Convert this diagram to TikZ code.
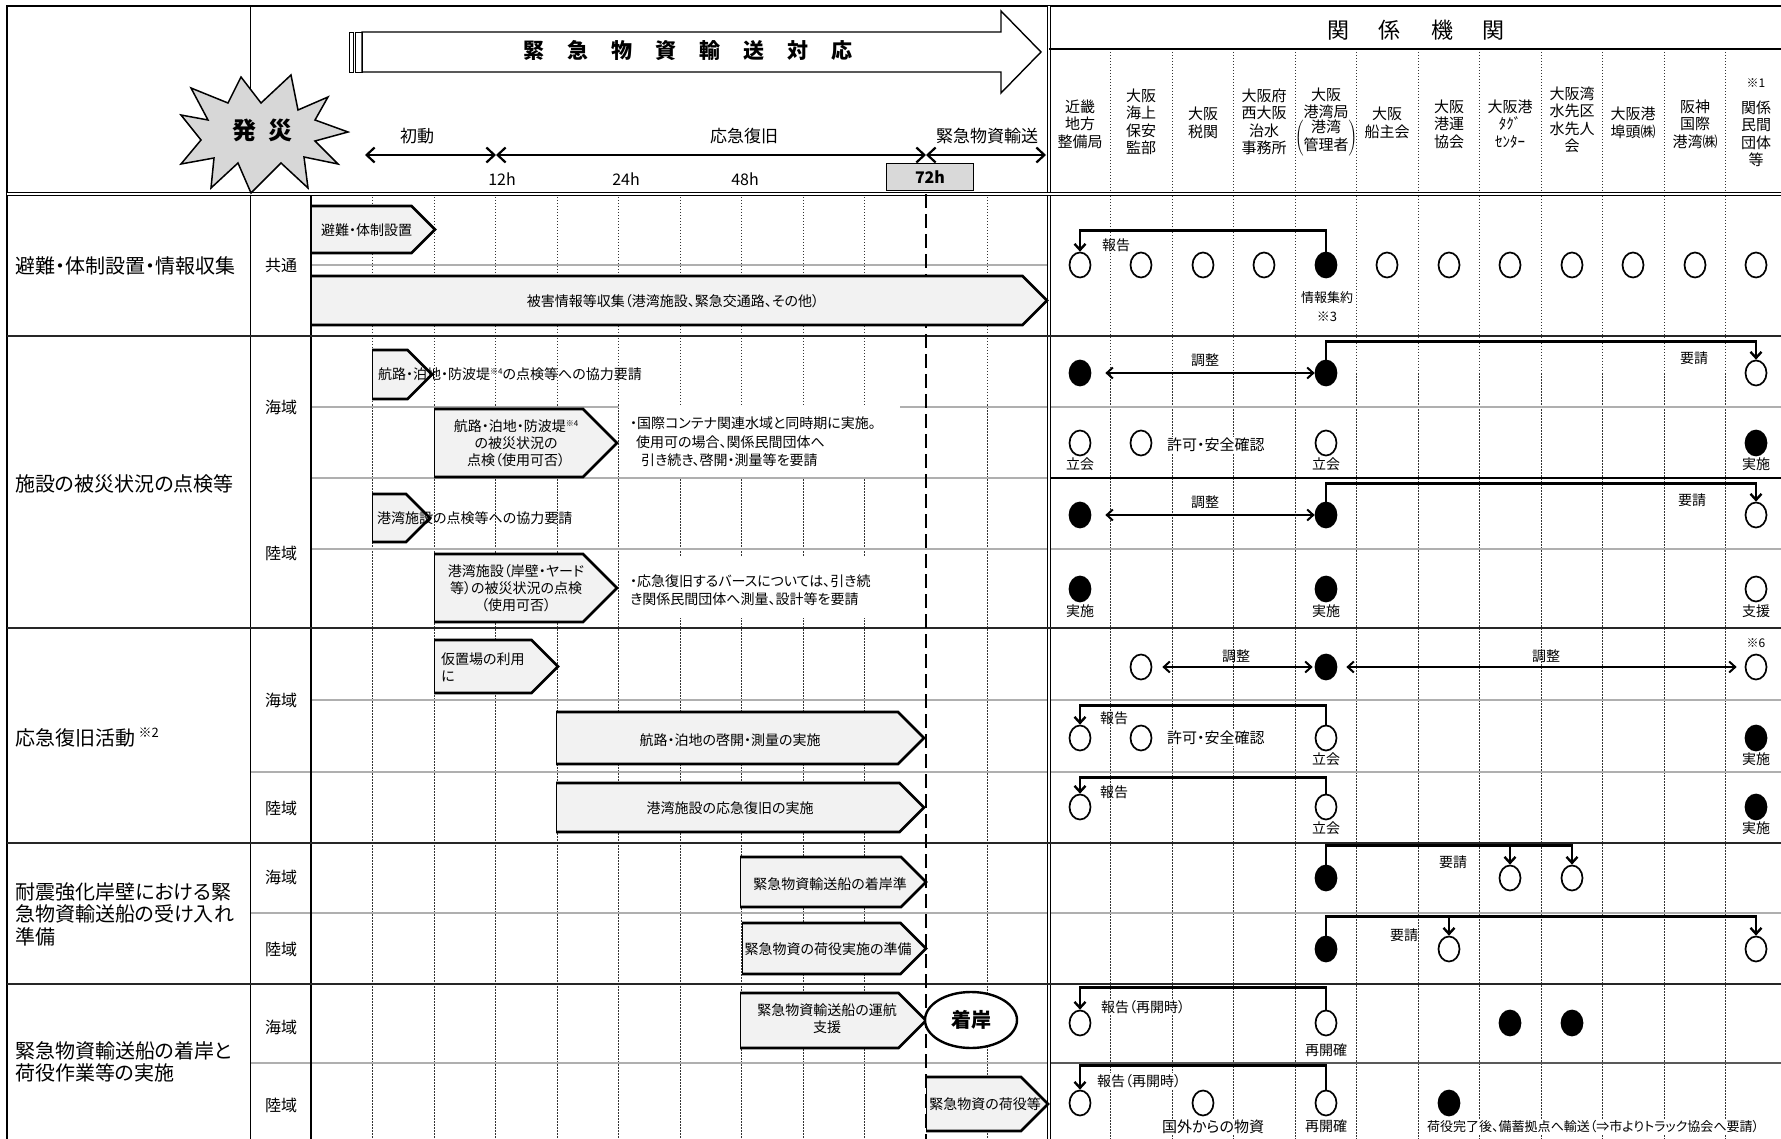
\documentclass[tikz,border=0pt]{standalone}
\usepackage{fontspec}
\setmainfont{Noto Sans CJK JP}[RawFeature=+palt]
\usepackage{tikz}
\usetikzlibrary{positioning, shapes.geometric, arrows.meta, calc}
\definecolor{barFill}{RGB}{242,242,242}
\definecolor{lineGray}{RGB}{175,175,175}
\definecolor{starGray}{RGB}{215,215,215}
\definecolor{boxGray}{RGB}{217,217,217}
\newcommand\fsz[2]{\fontsize{#1}{#2}\selectfont}
% timeline bar: x start, x tip, y top, y bottom
\newcommand\tlbar[4]{%
  \fill[barFill] (#1,#3) -- ({#2-(#4-#3)/2},#3) -- (#2,{(#3+#4)/2}) -- ({#2-(#4-#3)/2},#4) -- (#1,#4) -- cycle;
  \draw[line width=1] (#1,#3) -- (#1,#4);
  \draw[baredge] (#1,#3) -- ({#2-(#4-#3)/2},#3) -- (#2,{(#3+#4)/2}) -- ({#2-(#4-#3)/2},#4) -- (#1,#4);}

\begin{document}
\begin{tikzpicture}[x=1pt, y=-1pt,
  sepline/.style={line width=2.2, black!85},
  gridline/.style={line width=0.9, black!80, dash pattern=on 1.5pt off 1.5pt},
  grayline/.style={line width=1.3, lineGray},
  baredge/.style={line width=2.6, line join=miter},
  bartxt/.style={font=\fsz{14}{17}, align=center, inner sep=0},
  notetxt/.style={font=\fsz{14}{18.5}, align=left, anchor=west, inner sep=0},
  seclbl/.style={font=\fsz{20}{22.5}, align=left, anchor=west, inner sep=0},
  sublbl/.style={font=\fsz{16}{16}, inner sep=0},
  orgname/.style={font=\fsz{15}{17.5}, align=center, inner sep=0},
  hdrtxt/.style={font=\fsz{17}{17}, inner sep=0},
  opn/.style={ellipse, draw, line width=1.7, minimum width=21, minimum height=25, inner sep=0, fill=white},
  fil/.style={opn, fill=black},
  lbl/.style={font=\fsz{14}{16}, inner sep=1},
  brk/.style={line width=2.4, -{Straight Barb[length=6pt, width=11pt]}},
  adj/.style={line width=2, {Straight Barb[length=6pt, width=11pt]}-{Straight Barb[length=6pt, width=11pt]}},
  tarrow/.style={line width=2.2, {Straight Barb[length=8pt, width=15pt]}-{Straight Barb[length=8pt, width=15pt]}}
]
\useasboundingbox (0,0) rectangle (1781,1139);
\clip (0,0) rectangle (1781,1139);

% Grid
\foreach \k in {1,...,9,11} \draw[gridline] ({311+61.5*\k},194) -- ({311+61.5*\k},1139);
\foreach \k in {1,...,11} \draw[gridline] ({1049+61.5*\k},49) -- ({1049+61.5*\k},1139);

% Row lines
\draw[grayline] (311,265) -- (1049,265);
\draw[grayline] (311,407) -- (1781,407);
\draw[grayline] (311,478) -- (1049,478);
\draw[line width=1.6] (1049,478) -- (1781,478);
\draw[grayline] (311,549) -- (1781,549);
\draw[grayline] (311,700) -- (1781,700);
\foreach \yy in {772,913} \draw[grayline] (250,\yy) -- (1781,\yy);
\draw[grayline] (250,1063) -- (1049,1063);
\draw[line width=1.3, black!65] (1049,1063) -- (1781,1063);

% Note backgrounds
\fill[white] (619,405) rectangle (900,477);
\fill[white] (619,557) rectangle (890,618);

% Frame
\draw[line width=2.8] (7,1139) -- (7,6) -- (1781,6);
\draw[line width=1] (250,6) -- (250,1139);
\draw[line width=2] (311,194) -- (311,1139);
\draw[line width=1, double, double distance=1.6] (1049,6) -- (1049,1139);
\draw[line width=1.2] (1049,49) -- (1781,49);
\draw[line width=1, double, double distance=1.8] (7,194) -- (1781,194);
\foreach \yy in {336,628,843,984} \draw[sepline] (7,\yy) -- (1781,\yy);

% 72h line
\draw[line width=2.5, dash pattern=on 14pt off 6pt] (926,194) -- (926,1139);

% Header: big arrow
\draw[fill=white, line width=1.4, line join=miter] (362,32) -- (1001,32) -- (1001,11) -- (1041,52) -- (1001,93) -- (1001,72) -- (362,72) -- cycle;
\draw[line width=0.9] (349,32) rectangle (353,72);
\draw[line width=0.9] (355,32) rectangle (362,72);
\node[font=\fsz{21}{21}\bfseries] (title) at (688,51) {緊\hspace{23pt}急\hspace{23pt}物\hspace{23pt}資\hspace{23pt}輸\hspace{23pt}送\hspace{23pt}対\hspace{23pt}応};

% Header: starburst
\draw[fill=starGray, line width=1.5, line join=miter]
  (291,75) -- (298,110) -- (328,97) -- (315,120) -- (348,132) -- (315,141) -- (338,164)
  -- (304,157) -- (308,188) -- (281,163) -- (251,193) -- (238,163) -- (211,188) -- (214,158)
  -- (181,164) -- (201,140) -- (181,115) -- (208,120) -- (191,88) -- (228,103) -- (241,77)
  -- (261,103) -- cycle;
\node[font=\fsz{24}{24}\bfseries] (hassai) at (262,130) {発\hspace{12pt}災};

% Header: time axis
\coordinate (ta) at (365,155);
\coordinate (tb) at (496,155);
\coordinate (tc) at (926,155);
\coordinate (td) at (1046,155);
\draw[tarrow] (ta) -- (tb);
\draw[tarrow] (tb) -- (tc);
\draw[tarrow] (tc) -- (td);
\node[hdrtxt] (shodo) at (417,136) {初動};
\node[hdrtxt] (oukyu) at (744,136) {応急復旧};
\node[hdrtxt] (kinkyu) at (987,136) {緊急物資輸送};
\node[font=\fsz{16}{16}] (h12) at (502,179) {12h};
\node[font=\fsz{16}{16}] (h24) at (626,179) {24h};
\node[font=\fsz{16}{16}] (h48) at (745,179) {48h};
\node[draw, fill=boxGray, line width=1.3, minimum width=87, minimum height=27, inner sep=0, font=\fsz{16}{16}\bfseries] (h72) at (930,177) {72h};

% Header: organisations
\node[font=\fsz{22}{22}] (kankei) at (1416,30) {関\hspace{30pt}係\hspace{30pt}機\hspace{30pt}関};
\node[orgname] (o1) at (1080,124) {近畿\\地方\\整備局};
\node[orgname] (o2) at (1141,122) {大阪\\海上\\保安\\監部};
\node[orgname] (o3) at (1203,123) {大阪\\税関};
\node[orgname] (o4) at (1264,122) {大阪府\\西大阪\\治水\\事務所};
\node[orgname] (o5) at (1326,122) {大阪\\港湾局\\$\left(\begin{tabular}{@{}c@{}}港湾\\管理者\end{tabular}\right)$};
\node[orgname] (o6) at (1387,123) {大阪\\船主会};
\node[orgname] (o7) at (1449,124) {大阪\\港運\\協会};
\node[orgname] (o8) at (1510,124) {大阪港\\ﾀｸﾞ\\ｾﾝﾀｰ};
\node[orgname] (o9) at (1572,120) {大阪湾\\水先区\\水先人\\会};
\node[orgname] (o10) at (1633,123) {大阪港\\埠頭㈱};
\node[orgname] (o11) at (1695,124) {阪神\\国際\\港湾㈱};
\node[font=\fsz{12}{12}] (o12n) at (1756,83) {※1};
\node[orgname] (o12) at (1756,134) {関係\\民間\\団体\\等};

% Left labels
\node[seclbl] (sec1) at (15,266) {避難・体制設置・情報収集};
\node[sublbl] (sub1) at (281,266) {共通};
\node[seclbl] (sec2) at (15,484) {施設の被災状況の点検等};
\node[sublbl] (sub2a) at (281,407) {海域};
\node[sublbl] (sub2b) at (281,553) {陸域};
\node[seclbl] (sec3) at (15,738) {応急復旧活動\,\raisebox{8pt}{\fsz{13}{13}※2}};
\node[sublbl] (sub3a) at (281,700) {海域};
\node[sublbl] (sub3b) at (281,808) {陸域};
\node[seclbl] (sec4) at (15,914) {耐震強化岸壁における緊\\急物資輸送船の受け入れ\\準備};
\node[sublbl] (sub4a) at (281,877) {海域};
\node[sublbl] (sub4b) at (281,949) {陸域};
\node[seclbl] (sec5) at (15,1062) {緊急物資輸送船の着岸と\\荷役作業等の実施};
\node[sublbl] (sub5a) at (281,1027) {海域};
\node[sublbl] (sub5b) at (281,1105) {陸域};

% Timeline bars
\tlbar{311}{435}{206}{253}
\node[bartxt, anchor=west] (b1) at (321,230) {避難・体制設置};
\tlbar{311}{1047}{276}{325}
\node[bartxt] (b2) at (673,301) {被害情報等収集（港湾施設、緊急交通路、その他）};
\tlbar{372}{432}{350}{399}
\node[bartxt, anchor=west] (b3) at (378,374) {航路・泊地・防波堤\raisebox{5pt}{\fsz{8}{8}※4}の点検等への協力要請};
\tlbar{434}{617}{409}{477}
\node[bartxt] (b4) at (516,443) {航路・泊地・防波堤\raisebox{5pt}{\fsz{8}{8}※4}\\の被災状況の\\点検（使用可否）};
\node[notetxt] (n1) at (630,442) {・国際コンテナ関連水域と同時期に実施。\\\hspace{6pt}使用可の場合、関係民間団体へ\\\hspace{11pt}引き続き、啓開・測量等を要請};
\tlbar{372}{430}{494}{542}
\node[bartxt, anchor=west] (b5) at (377,518) {港湾施設の点検等への協力要請};
\tlbar{434}{617}{554}{622}
\node[bartxt] (b6) at (516,588) {港湾施設（岸壁・ヤード\\等）の被災状況の点検\\（使用可否）};
\node[notetxt] (n2) at (630,590) {・応急復旧するバースについては、引き続\\き関係民間団体へ測量、設計等を要請};
\tlbar{434}{558}{640}{693}
\node[bartxt, anchor=west, align=left] (b7) at (441,667) {仮置場の利用\\に};
\tlbar{556}{924}{712}{764}
\node[bartxt] (b8) at (730,740) {航路・泊地の啓開・測量の実施};
\tlbar{556}{924}{783}{832}
\node[bartxt] (b9) at (730,808) {港湾施設の応急復旧の実施};
\tlbar{740}{926}{857}{907}
\node[bartxt] (b10) at (830,884) {緊急物資輸送船の着岸準};
\tlbar{742}{926}{923}{974}
\node[bartxt] (b11) at (828,949) {緊急物資の荷役実施の準備};
\tlbar{740}{926}{993}{1048}
\node[bartxt] (b12) at (827,1019) {緊急物資輸送船の運航\\支援};
\node[ellipse, draw, line width=2.4, fill=white, minimum width=92, minimum height=56, font=\fsz{20}{20}\bfseries] (chaku) at (971,1020) {着岸};
\tlbar{926}{1048}{1077}{1131}
\node[bartxt] (b13) at (985,1104) {緊急物資の荷役等};

% Organisations: 共通
\foreach \i/\xx in {1/1080,2/1141,3/1203,4/1264,6/1387,7/1449,8/1510,9/1572,10/1633,11/1695,12/1756}
  \node[opn] (s1c\i) at (\xx,265) {};
\node[fil] (s1c5) at (1326,265) {};
\draw[brk] (s1c5.north) -- ++(0,-21) -| (s1c1.north);
\node[lbl] at (1116,245) {報告};
\node[lbl, fill=white, align=center, font=\fsz{13}{19}] (shuyaku) at (1327,307) {情報集約\\※3};

% 施設の被災状況の点検等
\node[fil] (s2ac1) at (1080,373) {};
\node[fil] (s2ac5) at (1326,373) {};
\node[opn] (s2ac12) at (1756,373) {};
\draw[adj] ([xshift=14]s2ac1.east) -- (s2ac5.west);
\node[lbl] at (1205,360) {調整};
\draw[brk] (s2ac5.north) -- ++(0,-18) -| (s2ac12.north);
\node[lbl] at (1694,358) {要請};

\node[opn] (s2bc1) at (1080,443) {};
\node[opn] (s2bc2) at (1141,443) {};
\node[opn] (s2bc5) at (1326,443) {};
\node[fil] (s2bc12) at (1756,443) {};
\node[lbl, below=0pt of s2bc1] {立会};
\node[lbl, below=0pt of s2bc5] {立会};
\node[lbl, below=0pt of s2bc12] {実施};
\node[lbl, fill=white, anchor=west, font=\fsz{15}{16}] at (1166,445) {許可・安全確認};

\node[fil] (s2cc1) at (1080,515) {};
\node[fil] (s2cc5) at (1326,515) {};
\node[opn] (s2cc12) at (1756,515) {};
\draw[adj] ([xshift=14]s2cc1.east) -- (s2cc5.west);
\node[lbl] at (1205,502) {調整};
\draw[brk] (s2cc5.north) -- ++(0,-18) -| (s2cc12.north);
\node[lbl] at (1692,500) {要請};

\node[fil] (s2dc1) at (1080,589) {};
\node[fil] (s2dc5) at (1326,589) {};
\node[opn] (s2dc12) at (1756,589) {};
\node[lbl, below=1pt of s2dc1] {実施};
\node[lbl, below=1pt of s2dc5] {実施};
\node[lbl, below=1pt of s2dc12] {支援};

% 応急復旧活動
\node[opn] (s3ac2) at (1141,667) {};
\node[fil] (s3ac5) at (1326,667) {};
\node[opn] (s3ac12) at (1756,667) {};
\node[font=\fsz{12}{12}, above=2pt of s3ac12] {※6};
\draw[adj] ([xshift=10]s3ac2.east) -- ([xshift=-2]s3ac5.west);
\draw[adj] ([xshift=9]s3ac5.east) -- ([xshift=-8]s3ac12.west);
\node[lbl] at (1236,656) {調整};
\node[lbl] at (1546,656) {調整};

\node[opn] (s3bc1) at (1080,738) {};
\node[opn] (s3bc2) at (1141,738) {};
\node[opn] (s3bc5) at (1326,738) {};
\node[fil] (s3bc12) at (1756,738) {};
\node[lbl, below=0pt of s3bc5] {立会};
\node[lbl, below=0pt of s3bc12] {実施};
\node[lbl, fill=white, anchor=west, font=\fsz{15}{16}] at (1166,738) {許可・安全確認};
\draw[brk] (s3bc5.north) -- ++(0,-19) -| (s3bc1.north);
\node[lbl] at (1114,718) {報告};

\node[opn] (s3cc1) at (1080,807) {};
\node[opn] (s3cc5) at (1326,807) {};
\node[fil] (s3cc12) at (1756,807) {};
\node[lbl, below=0pt of s3cc5] {立会};
\node[lbl, below=0pt of s3cc12] {実施};
\draw[brk] (s3cc5.north) -- ++(0,-16) -| (s3cc1.north);
\node[lbl] at (1114,792) {報告};

% 受け入れ準備
\node[fil] (s4ac5) at (1326,878) {};
\node[opn] (s4ac8) at (1510,878) {};
\node[opn] (s4ac9) at (1572,878) {};
\draw[brk] (s4ac5.north) -- ++(0,-19) -| (s4ac9.north);
\draw[brk] ($(s4ac8.north)+(0,-19)$) -- (s4ac8.north);
\node[lbl] at (1453,862) {要請};

\node[fil] (s4bc5) at (1326,949) {};
\node[opn] (s4bc7) at (1449,949) {};
\node[opn] (s4bc12) at (1756,949) {};
\draw[brk] (s4bc5.north) -- ++(0,-19) -| (s4bc12.north);
\draw[brk] ($(s4bc7.north)+(0,-19)$) -- (s4bc7.north);
\node[lbl] at (1404,935) {要請};

% 着岸と荷役作業
\node[opn] (s5ac1) at (1080,1023) {};
\node[opn] (s5ac5) at (1326,1023) {};
\node[fil] (s5ac8) at (1510,1023) {};
\node[fil] (s5ac9) at (1572,1023) {};
\node[lbl, below=6pt of s5ac5] {再開確};
\draw[brk] (s5ac5.north) -- ++(0,-22) -| (s5ac1.north);
\node[lbl, fill=white, anchor=west] at (1100,1007) {報告（再開時）};

\node[opn] (s5bc1) at (1080,1103) {};
\node[opn] (s5bc3) at (1203,1103) {};
\node[opn] (s5bc5) at (1326,1103) {};
\node[fil] (s5bc7) at (1449,1103) {};
\draw[brk] (s5bc5.north) -- ++(0,-24) -| (s5bc1.north);
\node[lbl, fill=white, anchor=west] at (1096,1081) {報告（再開時）};
\node[lbl, below=2pt of s5bc5] {再開確};
\node[lbl, fill=white, font=\fsz{15}{16}] at (1213,1127) {国外からの物資};
\node[lbl, fill=white, anchor=west, font=\fsz{13}{15}] at (1426,1127) {荷役完了後、備蓄拠点へ輸送（⇒市よりトラック協会へ要請）};
\end{tikzpicture}
\end{document}
